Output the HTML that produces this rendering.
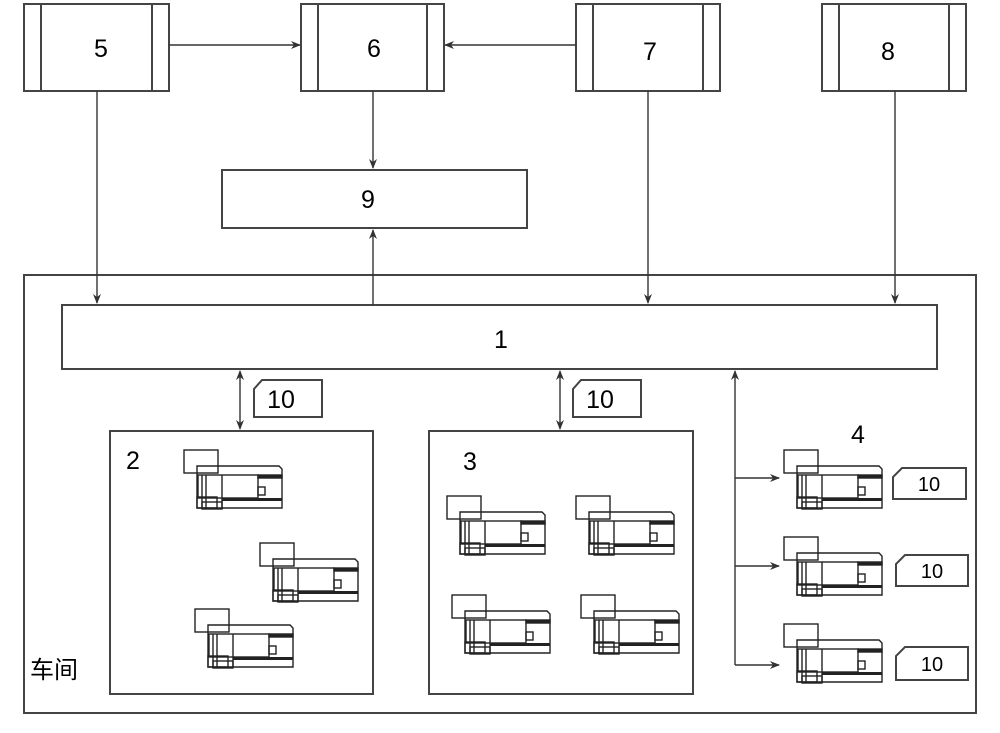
<!DOCTYPE html>
<html><head><meta charset="utf-8"><style>
body{margin:0;background:#fff}
svg{display:block}
text{font-family:"Liberation Sans","Noto Sans CJK SC",sans-serif;fill:#000}
</style></head><body>
<svg width="1000" height="733" viewBox="0 0 1000 733" xmlns="http://www.w3.org/2000/svg">
<defs>
<marker id="a" markerWidth="10" markerHeight="8" refX="9" refY="4" orient="auto" markerUnits="userSpaceOnUse">
<path d="M0,0 L10,4 L0,8 L3,4 z" fill="#333"/></marker>
<g id="m" fill="none" stroke="#222" stroke-width="1.4">
<rect x="0" y="0" width="34" height="23" fill="#fff"/>
<path d="M13,16 H95 L98,19 V58 H13 Z"/>
<rect x="14" y="25" width="60" height="23"/>
<line x1="18" y1="25" x2="18" y2="58"/>
<line x1="22" y1="25" x2="22" y2="58"/>
<line x1="38" y1="25" x2="38" y2="58"/>
<rect x="74" y="25" width="24" height="3" fill="#222"/>
<rect x="38" y="48" width="60" height="3" fill="#222" stroke="none"/>
<rect x="74" y="37" width="7" height="8"/>
<rect x="13" y="47" width="20" height="11"/>
<rect x="18" y="52" width="20" height="7"/>
</g>
</defs>
<g fill="none" stroke="#444" stroke-width="2">
<rect x="24" y="4" width="145" height="87"/><line x1="41" y1="4" x2="41" y2="91"/><line x1="152" y1="4" x2="152" y2="91"/>
<rect x="301" y="4" width="143" height="87"/><line x1="318" y1="4" x2="318" y2="91"/><line x1="427" y1="4" x2="427" y2="91"/>
<rect x="576" y="4" width="144" height="87"/><line x1="593" y1="4" x2="593" y2="91"/><line x1="703" y1="4" x2="703" y2="91"/>
<rect x="822" y="4" width="144" height="87"/><line x1="839" y1="4" x2="839" y2="91"/><line x1="949" y1="4" x2="949" y2="91"/>
<rect x="222" y="170" width="305" height="58"/>
<rect x="24" y="275" width="952" height="438"/>
<rect x="62" y="305" width="875" height="64"/>
<rect x="110" y="431" width="263" height="263"/>
<rect x="429" y="431" width="264" height="263"/>
<path d="M262,380 H322 V417 H254 V389 Z"/>
<path d="M581,380 H641 V417 H573 V389 Z"/>
<path d="M902,468 H966 V499 H893 V477 Z"/>
<path d="M905,555 H968 V586 H896 V564 Z"/>
<path d="M905,647 H968 V680 H896 V656 Z"/>
</g>
<g stroke="#333" stroke-width="1.4" fill="none">
<line x1="169" y1="45" x2="300" y2="45" marker-end="url(#a)"/>
<line x1="576" y1="45" x2="445" y2="45" marker-end="url(#a)"/>
<line x1="97" y1="91" x2="97" y2="303" marker-end="url(#a)"/>
<line x1="373" y1="91" x2="373" y2="168" marker-end="url(#a)"/>
<line x1="373" y1="305" x2="373" y2="230" marker-end="url(#a)"/>
<line x1="648" y1="91" x2="648" y2="303" marker-end="url(#a)"/>
<line x1="895" y1="91" x2="895" y2="303" marker-end="url(#a)"/>
<line x1="240" y1="400" x2="240" y2="371" marker-end="url(#a)"/>
<line x1="240" y1="400" x2="240" y2="429" marker-end="url(#a)"/>
<line x1="560" y1="400" x2="560" y2="371" marker-end="url(#a)"/>
<line x1="560" y1="400" x2="560" y2="429" marker-end="url(#a)"/>
<line x1="735" y1="665" x2="735" y2="371" marker-end="url(#a)"/>
<line x1="735" y1="478" x2="779" y2="478" marker-end="url(#a)"/>
<line x1="735" y1="566" x2="779" y2="566" marker-end="url(#a)"/>
<line x1="735" y1="665" x2="779" y2="665" marker-end="url(#a)"/>
</g>
<use href="#m" x="184" y="450"/>
<use href="#m" x="260" y="543"/>
<use href="#m" x="195" y="609"/>
<use href="#m" x="447" y="496"/>
<use href="#m" x="576" y="496"/>
<use href="#m" x="452" y="595"/>
<use href="#m" x="581" y="595"/>
<use href="#m" x="784" y="450"/>
<use href="#m" x="784" y="537"/>
<use href="#m" x="784" y="624"/>
<g font-size="25" text-anchor="middle">
<text x="101" y="57">5</text><text x="374" y="57">6</text><text x="650" y="60">7</text><text x="888" y="60">8</text>
<text x="368" y="208">9</text><text x="501" y="348">1</text>
<text x="133" y="469">2</text><text x="470" y="470">3</text><text x="858" y="443">4</text>
<text x="281" y="408">10</text><text x="600" y="408">10</text>
</g>
<g font-size="20" text-anchor="middle">
<text x="929" y="491">10</text><text x="932" y="578">10</text><text x="932" y="671">10</text>
</g>
<text x="30" y="678" font-size="24">车间</text>
</svg>
</body></html>
